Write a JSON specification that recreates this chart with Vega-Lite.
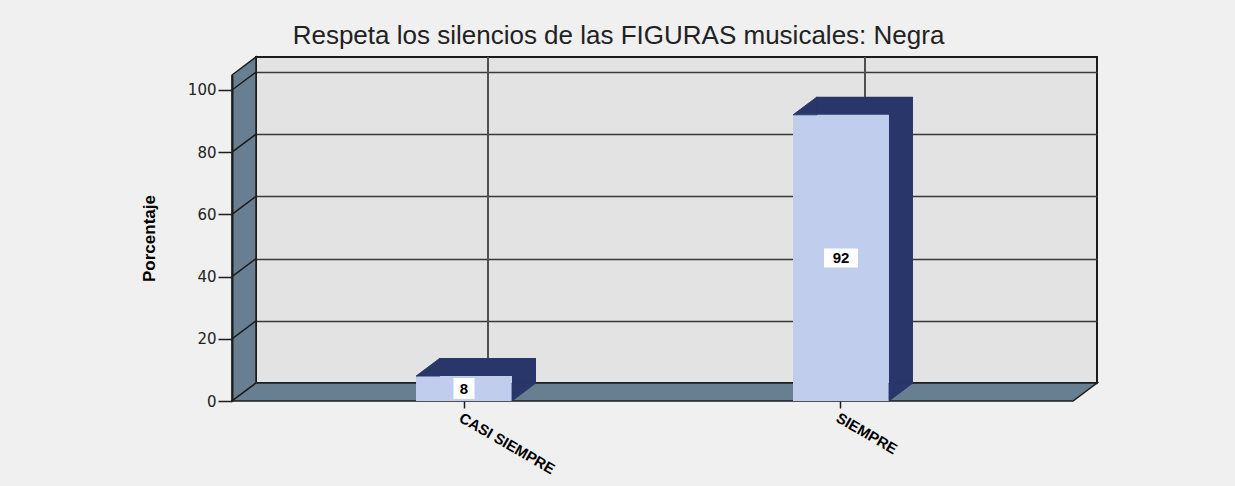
{
  "$schema": "https://vega.github.io/schema/vega-lite/v6.json",
  "width": 841,
  "height": 326,
  "autosize": {"type": "none"},
  "padding": {"left": 256, "top": 57, "right": 138, "bottom": 103},
  "background": "#f0f0f0",
  "title": {
    "text": "Respeta los silencios de las FIGURAS musicales: Negra",
    "font": "Liberation Sans",
    "fontSize": 26,
    "fontWeight": "normal",
    "color": "#222222",
    "anchor": "middle",
    "frame": "group",
    "dx": -58,
    "dy": 26,
    "offset": 10,
    "baseline": "alphabetic"
  },
  "data": {
    "values": [
      {"categoria": "CASI SIEMPRE", "porcentaje": 8},
      {"categoria": "SIEMPRE", "porcentaje": 92}
    ]
  },
  "config": {
    "view": {"fill": "#e3e3e3", "stroke": "#1c1c1c", "strokeWidth": 2}
  },
  "layer": [
    {
      "transform": [{"aggregate": [{"op": "count", "as": "n"}]}],
      "encoding": {
        "x": {"datum": 0, "type": "quantitative", "scale": {"domain": [0, 100], "nice": false, "zero": false}, "axis": null},
        "y": {
          "datum": 0,
          "type": "quantitative",
          "scale": {"domain": [0, 104.82], "nice": false, "zero": false},
          "axis": {"orient": "right", "grid": true, "gridColor": "#3a3a3a", "gridWidth": 1.5, "labels": false, "ticks": false, "domain": false, "title": null, "values": [0, 20, 40, 60, 80, 100], "zindex": 0}
        }
      },
      "layer": [
        {"mark": {"type": "point", "shape": "M0,0 L-24,18 L-24,-308 L0,-326 Z M-24,-44.2 L0,-62.2 M-24,-106.4 L0,-124.4 M-24,-168.6 L0,-186.6 M-24,-230.8 L0,-248.8 M-24,-293 L0,-311", "size": 4, "filled": true, "fill": "#687f92", "stroke": "#1c1c1c", "strokeWidth": 1.5, "opacity": 1}},
        {"mark": {"type": "point", "shape": "M0,0 L-24,18 L817,18 L841,0 Z", "size": 4, "filled": true, "fill": "#687f92", "stroke": "#1c1c1c", "strokeWidth": 1.5, "opacity": 1}}
      ]
    },
    {
      "encoding": {
        "x": {
          "field": "categoria",
          "type": "nominal",
          "scale": {"type": "band", "paddingInner": 0.7454, "paddingOuter": 0.4881},
          "axis": {"orient": "bottom", "offset": 18, "position": -24, "title": null, "domain": false, "grid": false, "labelAngle": 30, "labelAlign": "left", "labelBaseline": "top", "labelFont": "Liberation Sans", "labelFontWeight": "bold", "labelFontSize": 15, "labelColor": "#000000", "labelPadding": 2, "tickSize": 7, "tickColor": "#1c1c1c", "tickWidth": 1.5, "zindex": 1, "labelOverlap": false, "labelBound": false}
        }
      },
      "layer": [
        {
          "mark": {"type": "rule", "color": "#505050", "strokeWidth": 2},
          "encoding": {
            "x": {"field": "categoria", "type": "nominal", "bandPosition": 0.5},
            "y": {"datum": 0, "type": "quantitative", "scale": {"domain": [0, 104.82], "nice": false, "zero": false}},
            "y2": {"datum": 104.82}
          }
        },
        {
          "mark": {"type": "bar", "color": "#283669"},
          "encoding": {
            "y": {
              "field": "porcentaje",
              "type": "quantitative",
              "scale": {"domain": [0, 104.82], "nice": false, "zero": false},
              "axis": {"orient": "left", "offset": 24, "position": 18, "values": [0, 20, 40, 60, 80, 100], "grid": false, "title": "Porcentaje", "titleFont": "Liberation Sans", "titleFontSize": 17, "titleFontWeight": "bold", "titleColor": "#000000", "titlePadding": 29, "labelFont": "DejaVu Sans", "labelFontSize": 15, "labelColor": "#222222", "labelPadding": 2, "tickSize": 14, "tickColor": "#1c1c1c", "tickWidth": 1.5, "domainColor": "#1c1c1c", "domainWidth": 2, "zindex": 1, "labelFlush": false, "labelOverlap": false}
            }
          }
        },
        {
          "mark": {"type": "bar", "color": "#c0cdec", "xOffset": -24, "x2Offset": -24, "yOffset": 18, "y2Offset": 18},
          "encoding": {
            "y": {"field": "porcentaje", "type": "quantitative", "scale": {"domain": [0, 104.82], "nice": false, "zero": false}}
          }
        },
        {
          "mark": {"type": "point", "shape": "M0,0 L-24,18 L0,18 Z", "size": 4, "filled": true, "color": "#283669", "stroke": "#283669", "strokeWidth": 0.8, "opacity": 1},
          "encoding": {
            "x": {"field": "categoria", "type": "nominal", "bandPosition": 0},
            "y": {"field": "porcentaje", "type": "quantitative", "scale": {"domain": [0, 104.82], "nice": false, "zero": false}}
          }
        },
        {
          "mark": {"type": "point", "shape": "M0,0 L-24,0 L-24,18 Z", "size": 4, "filled": true, "color": "#283669", "stroke": "#283669", "strokeWidth": 0.8, "opacity": 1},
          "encoding": {
            "x": {"field": "categoria", "type": "nominal", "bandPosition": 1},
            "y": {"datum": 0, "type": "quantitative", "scale": {"domain": [0, 104.82], "nice": false, "zero": false}}
          }
        },
        {
          "mark": {"type": "point", "size": 4, "filled": true, "color": "#ffffff", "strokeWidth": 0, "opacity": 1, "xOffset": -24, "yOffset": 18},
          "encoding": {
            "y": {"field": "porcentaje", "type": "quantitative", "stack": "zero", "bandPosition": 0.5, "scale": {"domain": [0, 104.82], "nice": false, "zero": false}},
            "shape": {"condition": {"test": "datum.porcentaje < 10", "value": "M-10.5,-10.5 L10.5,-10.5 L10.5,10.5 L-10.5,10.5 Z"}, "value": "M-17,-9.5 L17,-9.5 L17,9.5 L-17,9.5 Z"}
          }
        },
        {
          "mark": {"type": "text", "font": "Liberation Sans", "fontWeight": "bold", "fontSize": 15, "color": "#000000", "xOffset": -24, "yOffset": 18, "baseline": "middle", "align": "center"},
          "encoding": {
            "y": {"field": "porcentaje", "type": "quantitative", "stack": "zero", "bandPosition": 0.5, "scale": {"domain": [0, 104.82], "nice": false, "zero": false}},
            "text": {"field": "porcentaje", "type": "quantitative"}
          }
        }
      ]
    }
  ],
  "resolve": {"scale": {"x": "independent"}, "axis": {"x": "independent", "y": "independent"}}
}
